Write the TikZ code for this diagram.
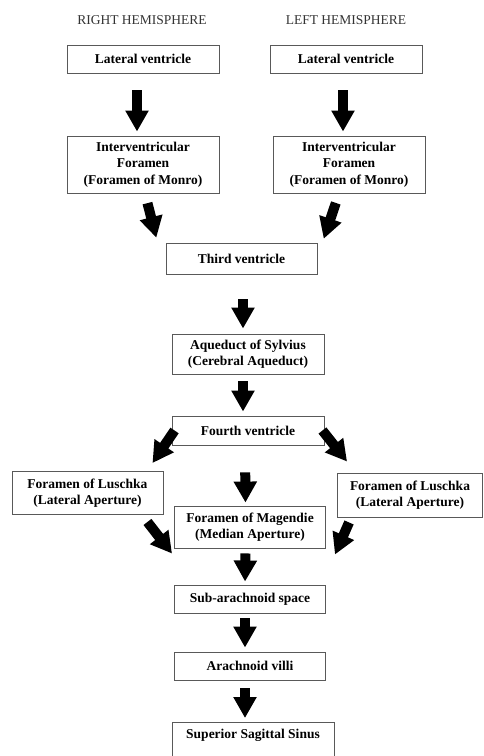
\documentclass[tikz,border=0pt]{standalone}
\usepackage{fontspec}
\setmainfont{Liberation Serif}
\usetikzlibrary{arrows.meta}

\begin{document}
\begin{tikzpicture}[x=1pt, y=1pt,
	box/.style={draw=black!65, line width=0.9pt, minimum width=152pt, align=center, inner sep=2pt, font=\fontsize{13.5}{16.5}\selectfont\bfseries},
	flow/.style={line width=10pt, -{Triangle[width=22pt, length=21pt]}},
	side/.style={font=\fontsize{13.5}{16}\selectfont, text=black!80}]
	\useasboundingbox (0,0) rectangle (484,-756);
	\node [side] (right) at (142,-20) {RIGHT HEMISPHERE};
	\node [side] (left) at (346,-20) {LEFT HEMISPHERE};
	\node [box, minimum height=28pt] (lvR) at (143,-59) {Lateral ventricle};
	\node [box, minimum height=28pt] (lvL) at (346,-59) {Lateral ventricle};
	\node [box, minimum height=57pt] (ifR) at (143,-164.5) {Interventricular\\Foramen\\(Foramen of Monro)};
	\node [box, minimum height=57pt] (ifL) at (349,-164.5) {Interventricular\\Foramen\\(Foramen of Monro)};
	\node [box, minimum width=151pt, minimum height=31pt] (third) at (241.5,-258.5) {Third ventricle};
	\node [box, minimum height=40pt] (aq) at (248,-354) {Aqueduct of Sylvius\\(Cerebral Aqueduct)};
	\node [box, minimum height=29pt] (fourth) at (248,-430.5) {Fourth ventricle};
	\node [box, minimum width=151pt, minimum height=43pt] (lusL) at (87.5,-493) {Foramen of Luschka\\(Lateral Aperture)};
	\node [box, minimum width=145pt, minimum height=44pt] (lusR) at (410,-495) {Foramen of Luschka\\(Lateral Aperture)};
	\node [box, minimum width=151pt, minimum height=42pt] (mag) at (250,-527) {Foramen of Magendie\\(Median Aperture)};
	\node [box, minimum width=151pt, minimum height=28pt] (sub) at (250,-599) {Sub-arachnoid space};
	\node [box, minimum width=151pt, minimum height=28pt] (villi) at (250,-666) {Arachnoid villi};
	\node [box, minimum width=162pt, inner ysep=7pt, anchor=north] (sinus) at (253,-722) {Superior Sagittal Sinus\\ ~};
	\draw [flow, shorten <=17pt, shorten >=4pt] ([xshift=-6pt]lvR.south) -- ([xshift=-6pt]ifR.north);
	\draw [flow, shorten <=17pt, shorten >=4pt] ([xshift=-3pt]lvL.south) -- ([xshift=-6pt]ifL.north);
	\draw [flow, shorten <=10pt, shorten >=5pt] ([xshift=2pt]ifR.south) -- ([xshift=-8pt]third.north west);
	\draw [flow, shorten <=10pt, shorten >=4pt] ([xshift=-10pt]ifL.south) -- ([xshift=5pt]third.north east);
	\draw [flow, shorten <=25pt, shorten >=5pt] ([xshift=1.5pt]third.south) -- ([xshift=-5pt]aq.north);
	\draw [flow, shorten <=7pt, shorten >=4pt] ([xshift=-5pt]aq.south) -- ([xshift=-5pt]fourth.north);
	\draw [flow] ([xshift=3pt]fourth.west) -- ([shift={(-11pt,8pt)}]lusL.north east);
	\draw [flow] ([xshift=-2pt]fourth.east) -- ([shift={(10pt,11pt)}]lusR.north west);
	\draw [flow, shorten <=27pt, shorten >=3pt] ([xshift=-3pt]fourth.south) -- ([xshift=-4.5pt]mag.north);
	\draw [flow] ([shift={(-16pt,-7pt)}]lusL.south east) -- ([shift={(-2pt,31pt)}]sub.north west);
	\draw [flow] ([shift={(12pt,-5pt)}]lusR.south west) -- ([shift={(9pt,30pt)}]sub.north east);
	\draw [flow, shorten <=5pt, shorten >=3pt] ([xshift=-4.5pt]mag.south) -- ([xshift=-5pt]sub.north);
	\draw [flow, shorten <=5pt, shorten >=4pt] ([xshift=-5pt]sub.south) -- ([xshift=-5pt]villi.north);
	\draw [flow, shorten <=8pt, shorten >=4pt] ([xshift=-5pt]villi.south) -- ([xshift=-8pt]sinus.north);
\end{tikzpicture}
\end{document}
